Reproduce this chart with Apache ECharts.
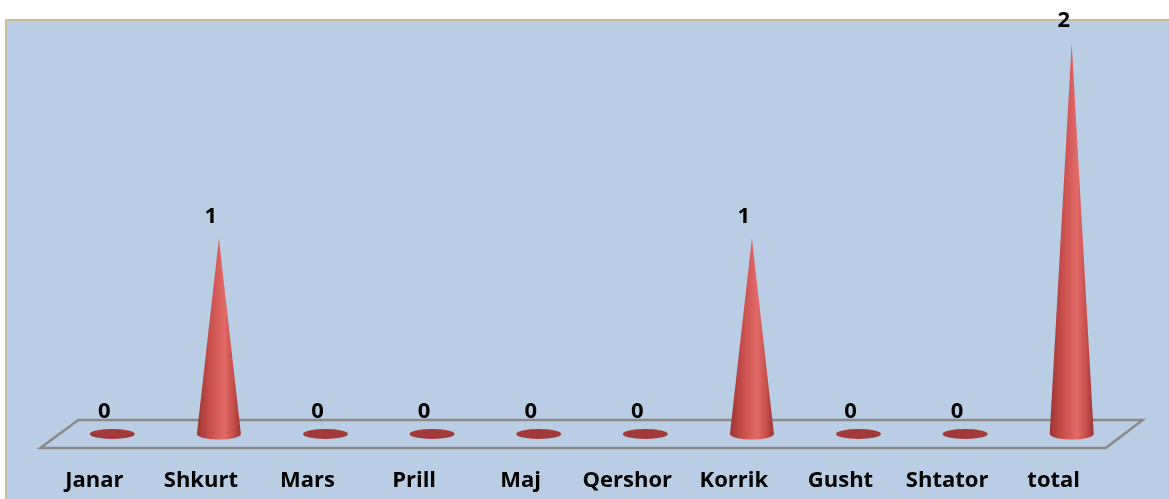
<!DOCTYPE html>
<html>
<head>
<meta charset="utf-8">
<script src="https://cdn.jsdelivr.net/npm/echarts@6/dist/echarts.min.js"></script>
<style>
  html, body { margin: 0; padding: 0; background: #fff; }
  #main { width: 1169px; height: 499px; }
</style>
</head>
<body>
<div id="main"></div>
<script>
// months + total
var categories = ['Janar', 'Shkurt', 'Mars', 'Prill', 'Maj', 'Qershor', 'Korrik', 'Gusht', 'Shtator', 'total'];
var values = [0, 1, 0, 0, 0, 0, 1, 0, 0, 2];

var chartDom = document.getElementById('main');
var myChart = echarts.init(chartDom);
var font = 'bold 22px "Open Sans", sans-serif';

function ellipsePath(cx, cy, rx, ry) {
  return 'M' + (cx - rx) + ' ' + cy +
    ' A' + rx + ' ' + ry + ' 0 1 0 ' + (cx + rx) + ' ' + cy +
    ' A' + rx + ' ' + ry + ' 0 1 0 ' + (cx - rx) + ' ' + cy + ' Z';
}

function renderCone(params, api) {
  var base = api.coord([api.value(0), 0]);
  var top = api.coord([api.value(0), api.value(1)]);
  var cx = base[0], cy = base[1];
  var rx = 22, ry = 5.5;
  var children = [];
  if (api.value(1) === 0) {
    children.push({
      type: 'path',
      shape: { pathData: ellipsePath(cx, cy, 22.5, 5) },
      style: { fill: '#a23a39' }
    });
  } else {
    var d = 'M' + cx + ' ' + top[1] +
      ' L' + (cx + rx) + ' ' + cy +
      ' A' + rx + ' ' + ry + ' 0 0 1 ' + (cx - rx) + ' ' + cy + ' Z';
    children.push({
      type: 'path',
      shape: { pathData: d },
      style: {
        fill: new echarts.graphic.LinearGradient(0, 0, 1, 0, [
          { offset: 0, color: '#9c3533' },
          { offset: 0.3, color: '#c94f4c' },
          { offset: 0.62, color: '#e26a68' },
          { offset: 0.85, color: '#c34c49' },
          { offset: 1, color: '#9a3432' }
        ])
      }
    });
  }
  children.push({
    type: 'text',
    style: {
      text: String(api.value(1)),
      x: cx - 8,
      y: top[1] - 22,
      align: 'center',
      verticalAlign: 'middle',
      font: font,
      fill: '#000'
    }
  });
  return { type: 'group', children: children };
}

function renderFloor(params, api) {
  var first = api.coord([0, 0]);
  var last = api.coord([categories.length - 1, 0]);
  var y = first[1];
  return {
    type: 'polygon',
    shape: {
      points: [
        [first[0] - 34, y - 14],
        [last[0] + 71, y - 14],
        [last[0] + 34, y + 14],
        [first[0] - 72, y + 14]
      ]
    },
    style: { fill: 'none', stroke: '#8a8a8a', lineWidth: 2.5 }
  };
}

var option = {
  animation: false,
  graphic: [{
    type: 'rect',
    z: -10,
    shape: { x: 6, y: 20, width: 1180, height: 500 },
    style: { fill: '#b9cde5', stroke: '#c8c09a', lineWidth: 2 }
  }],
  grid: { left: 59, right: 44, top: 43, bottom: 65 },
  xAxis: {
    type: 'category',
    data: categories,
    axisLine: { show: false },
    axisTick: { show: false },
    splitLine: { show: false },
    axisLabel: {
      interval: 0,
      hideOverlap: false,
      margin: 36,
      padding: [0, 36, 0, 0],
      color: '#000',
      fontSize: 22,
      fontWeight: 'bold',
      fontFamily: 'Open Sans'
    }
  },
  yAxis: { type: 'value', min: 0, max: 2, show: false },
  series: [
    {
      type: 'custom',
      renderItem: renderFloor,
      data: [0],
      z: 1,
      silent: true
    },
    {
      type: 'custom',
      renderItem: renderCone,
      data: values.map(function (v, i) { return [i, v]; }),
      z: 2
    }
  ]
};

option && myChart.setOption(option);
</script>
</body>
</html>
